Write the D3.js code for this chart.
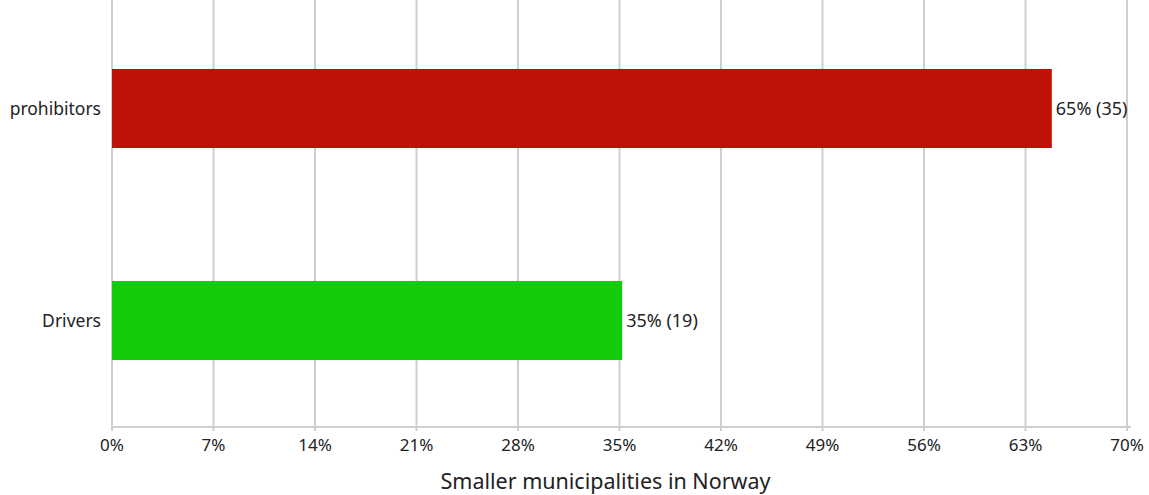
<!DOCTYPE html>
<html>
<head>
<meta charset="utf-8">
<script src="https://cdn.jsdelivr.net/npm/d3@7"></script>
<style>
html,body{margin:0;padding:0;background:#fff;}
text{font-family:"Noto Sans","Open Sans",sans-serif;fill:#222;}
</style>
</head>
<body>
<svg id="chart" width="1149" height="495"></svg>
<script>
const categories = ["prohibitors", "Drivers"];
const counts = [35, 19];
const total = 54;
const pctLabels = ["65%", "35%"];
const tickValues = [0, 7, 14, 21, 28, 35, 42, 49, 56, 63, 70];
const colors = ["#be1206", "#12cc0b"];
const axisTitle = "Smaller municipalities in Norway";

(function () {
const svg = d3.select("#chart");
const mLeft = 112, mRight = 1127, mTop = 0, mBottom = 427;

const x = d3.scaleLinear().domain([0, 70]).range([mLeft, mRight]);
const y = d3.scaleBand().domain(categories).range([mTop + 2.5, mBottom - 0.5]).paddingInner(0.627).paddingOuter(0.3135);

// gridlines
svg.append("g").selectAll("line").data(tickValues).join("line")
  .attr("x1", d => x(d)).attr("x2", d => x(d))
  .attr("y1", mTop).attr("y2", mBottom + 4)
  .attr("stroke", "#cfcfcf").attr("stroke-width", 2);

// axis line
svg.append("line").attr("x1", mLeft - 1).attr("x2", mRight + 4)
  .attr("y1", mBottom).attr("y2", mBottom)
  .attr("stroke", "#cfcfcf").attr("stroke-width", 2);

// tick labels
svg.append("g").selectAll("text").data(tickValues).join("text")
  .attr("x", d => x(d)).attr("y", mBottom + 24)
  .attr("text-anchor", "middle").attr("font-size", 17)
  .text(d => d + "%");

// bars
const data = categories.map((c, i) => ({c, v: counts[i] / total * 100, n: counts[i], p: pctLabels[i], col: colors[i]}));
svg.append("g").selectAll("rect").data(data).join("rect")
  .attr("x", x(0)).attr("y", d => y(d.c))
  .attr("width", d => x(d.v) - x(0)).attr("height", y.bandwidth())
  .attr("fill", d => d.col);

// value labels
svg.append("g").selectAll("text").data(data).join("text")
  .attr("x", d => x(d.v) + 4).attr("y", d => y(d.c) + y.bandwidth() / 2)
  .attr("dy", "0.35em").attr("font-size", 18)
  .text(d => `${d.p} (${d.n})`);

// category labels
svg.append("g").selectAll("text").data(data).join("text")
  .attr("x", mLeft - 11).attr("y", d => y(d.c) + y.bandwidth() / 2)
  .attr("dy", "0.35em").attr("text-anchor", "end").attr("font-size", 17.5)
  .text(d => d.c);

// axis title
svg.append("text").attr("x", (mLeft + mRight) / 2 - 14).attr("y", 489)
  .attr("text-anchor", "middle").attr("font-size", 21.5)
  .text(axisTitle);
})();
</script>
</body>
</html>
